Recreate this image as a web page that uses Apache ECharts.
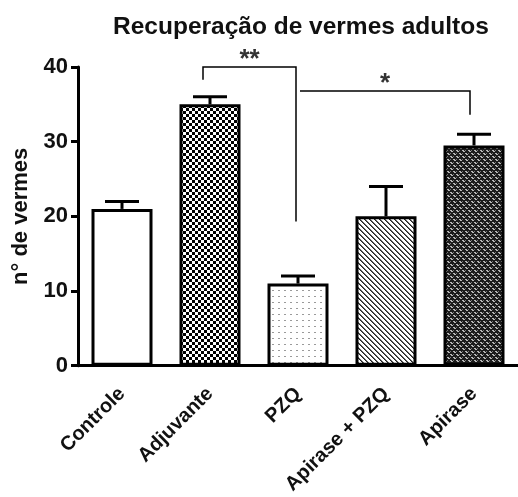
<!DOCTYPE html>
<html>
<head>
<meta charset="utf-8">
<script src="https://cdn.jsdelivr.net/npm/echarts@6/dist/echarts.min.js"></script>
<style>
html,body{margin:0;padding:0;background:#fff;}
#chart{width:518px;height:497px;}
</style>
</head>
<body>
<div id="chart"></div>
<script>
// ---- data ----
const titleText = 'Recuperação de vermes adultos';
const yAxisName = 'n° de vermes';
const categories = ['Controle', 'Adjuvante', 'PZQ', 'Apirase + PZQ', 'Apirase'];
const means = [21, 35, 11, 20, 29.5];
const errors = [1, 1, 1, 4, 1.5];
const yMin = 0, yMax = 40, yInterval = 10;
// significance brackets
const bracketFrom = [1, 2];
const bracketTo = [2, 4];
const bracketTop = [40, 36.8];
const bracketLeftEnd = [38.3, 36.8];
const bracketRightEnd = [19.3, 33.6];
const bracketLabels = ['**', '*'];

// ---- patterns ----
function makePattern(kind) {
  const c = document.createElement('canvas');
  let w = 6, h = 6;
  c.width = w; c.height = h;
  const ctx = c.getContext('2d');
  if (kind === 'white') {
    ctx.fillStyle = '#fff'; ctx.fillRect(0, 0, w, h);
  } else if (kind === 'check') {
    ctx.fillStyle = '#fff'; ctx.fillRect(0, 0, w, h);
    ctx.fillStyle = '#000';
    ctx.fillRect(0, 0, 3, 3); ctx.fillRect(3, 3, 3, 3);
  } else if (kind === 'dots') {
    ctx.fillStyle = '#fff'; ctx.fillRect(0, 0, w, h);
    ctx.fillStyle = '#9a9a9a';
    ctx.fillRect(2, 2, 2, 1);
  } else if (kind === 'diag') {
    c.width = 5; c.height = 5; w = 5; h = 5;
    ctx.fillStyle = '#fff'; ctx.fillRect(0, 0, w, h);
    for (let y = 0; y < h; y++) for (let x = 0; x < w; x++) {
      const m = ((x - y) % 5 + 5) % 5;
      if (m < 2) { ctx.fillStyle = m === 0 ? '#222' : '#666'; ctx.fillRect(x, y, 1, 1); }
    }
  } else if (kind === 'dense') {
    ctx.fillStyle = '#1c1c1c'; ctx.fillRect(0, 0, w, h);
    ctx.fillStyle = '#b8b8b8';
    ctx.fillRect(0, 0, 2, 1); ctx.fillRect(1, 1, 2, 1);
    ctx.fillRect(3, 3, 2, 1); ctx.fillRect(4, 4, 2, 1);
    ctx.fillStyle = '#777';
    ctx.fillRect(3, 0, 1, 1); ctx.fillRect(0, 3, 1, 1);
  }
  return { image: c, repeat: 'repeat' };
}
const patternKinds = ['white', 'check', 'dots', 'diag', 'dense'];

const font = '"Liberation Sans", Arial, sans-serif';
const chart = echarts.init(document.getElementById('chart'), null, { renderer: 'canvas' });

const barData = means.map((v, i) => ({
  value: v,
  itemStyle: { color: makePattern(patternKinds[i]), borderColor: '#000', borderWidth: 3 }
}));
const errData = means.map((v, i) => [i, v, errors[i]]);
const bracketData = bracketFrom.map((f, i) => [f, bracketTo[i], bracketTop[i], bracketLeftEnd[i], bracketRightEnd[i], i]);
const legOffsets = [[-7, -2], [2, -4]];

chart.setOption({
  animation: false,
  backgroundColor: '#fff',
  title: {
    text: titleText,
    left: 108, top: 10,
    textStyle: { fontFamily: font, fontWeight: 'bold', fontSize: 24.5, color: '#111' }
  },
  grid: { left: 78, top: 67, width: 450, height: 300, containLabel: false },
  xAxis: {
    type: 'category',
    data: categories,
    axisLine: { lineStyle: { color: '#000', width: 3 } },
    axisTick: { alignWithLabel: true, length: 7, lineStyle: { color: '#000', width: 3 } },
    axisLabel: { rotate: 45, margin: 25, fontFamily: font, fontWeight: 'bold', fontSize: 20, color: '#111', interval: 0 }
  },
  yAxis: {
    type: 'value',
    min: yMin, max: yMax, interval: yInterval,
    name: yAxisName,
    nameLocation: 'middle',
    nameGap: 46,
    nameTextStyle: { fontFamily: font, fontWeight: 'bold', fontSize: 22, color: '#111' },
    axisLine: { show: true, lineStyle: { color: '#000', width: 3 } },
    axisTick: { show: true, length: 7, lineStyle: { color: '#000', width: 3 } },
    axisLabel: { margin: 10, fontFamily: font, fontWeight: 'bold', fontSize: 22, color: '#111' },
    splitLine: { show: false }
  },
  series: [
    {
      type: 'bar',
      data: barData,
      barWidth: 61,
      z: 2
    },
    {
      type: 'custom',
      data: errData,
      z: 3,
      renderItem: function (params, api) {
        const x = api.value(0), m = api.value(1), e = api.value(2);
        const base = api.coord([x, m]);
        const top = api.coord([x, m + e]);
        const st = { stroke: '#000', lineWidth: 3 };
        return {
          type: 'group',
          children: [
            { type: 'line', shape: { x1: base[0], y1: base[1], x2: top[0], y2: top[1] }, style: st },
            { type: 'line', shape: { x1: top[0] - 17, y1: top[1], x2: top[0] + 17, y2: top[1] }, style: st }
          ]
        };
      }
    },
    {
      type: 'custom',
      data: bracketData,
      z: 4,
      clip: false,
      renderItem: function (params, api) {
        const f = api.value(0), t = api.value(1), yTop = api.value(2), yl = api.value(3), yr = api.value(4), k = api.value(5);
        const off = legOffsets[k];
        const pL = api.coord([f, yTop]);
        const pR = api.coord([t, yTop]);
        const lEnd = api.coord([f, yl]);
        const rEnd = api.coord([t, yr]);
        const xl = pL[0] + off[0], xr = pR[0] + off[1];
        return {
          type: 'group',
          children: [
            { type: 'polyline', shape: { points: [[xl, lEnd[1]], [xl, pL[1]], [xr, pR[1]], [xr, rEnd[1]]] }, style: { stroke: '#000', lineWidth: 1.5, fill: null } },
            { type: 'text', style: { text: bracketLabels[k], x: (xl + xr) / 2, y: pL[1] + 6, align: 'center', verticalAlign: 'bottom', fontFamily: font, fontWeight: 'bold', fontSize: 26, fill: '#333' } }
          ]
        };
      }
    }
  ]
});
</script>
</body>
</html>
